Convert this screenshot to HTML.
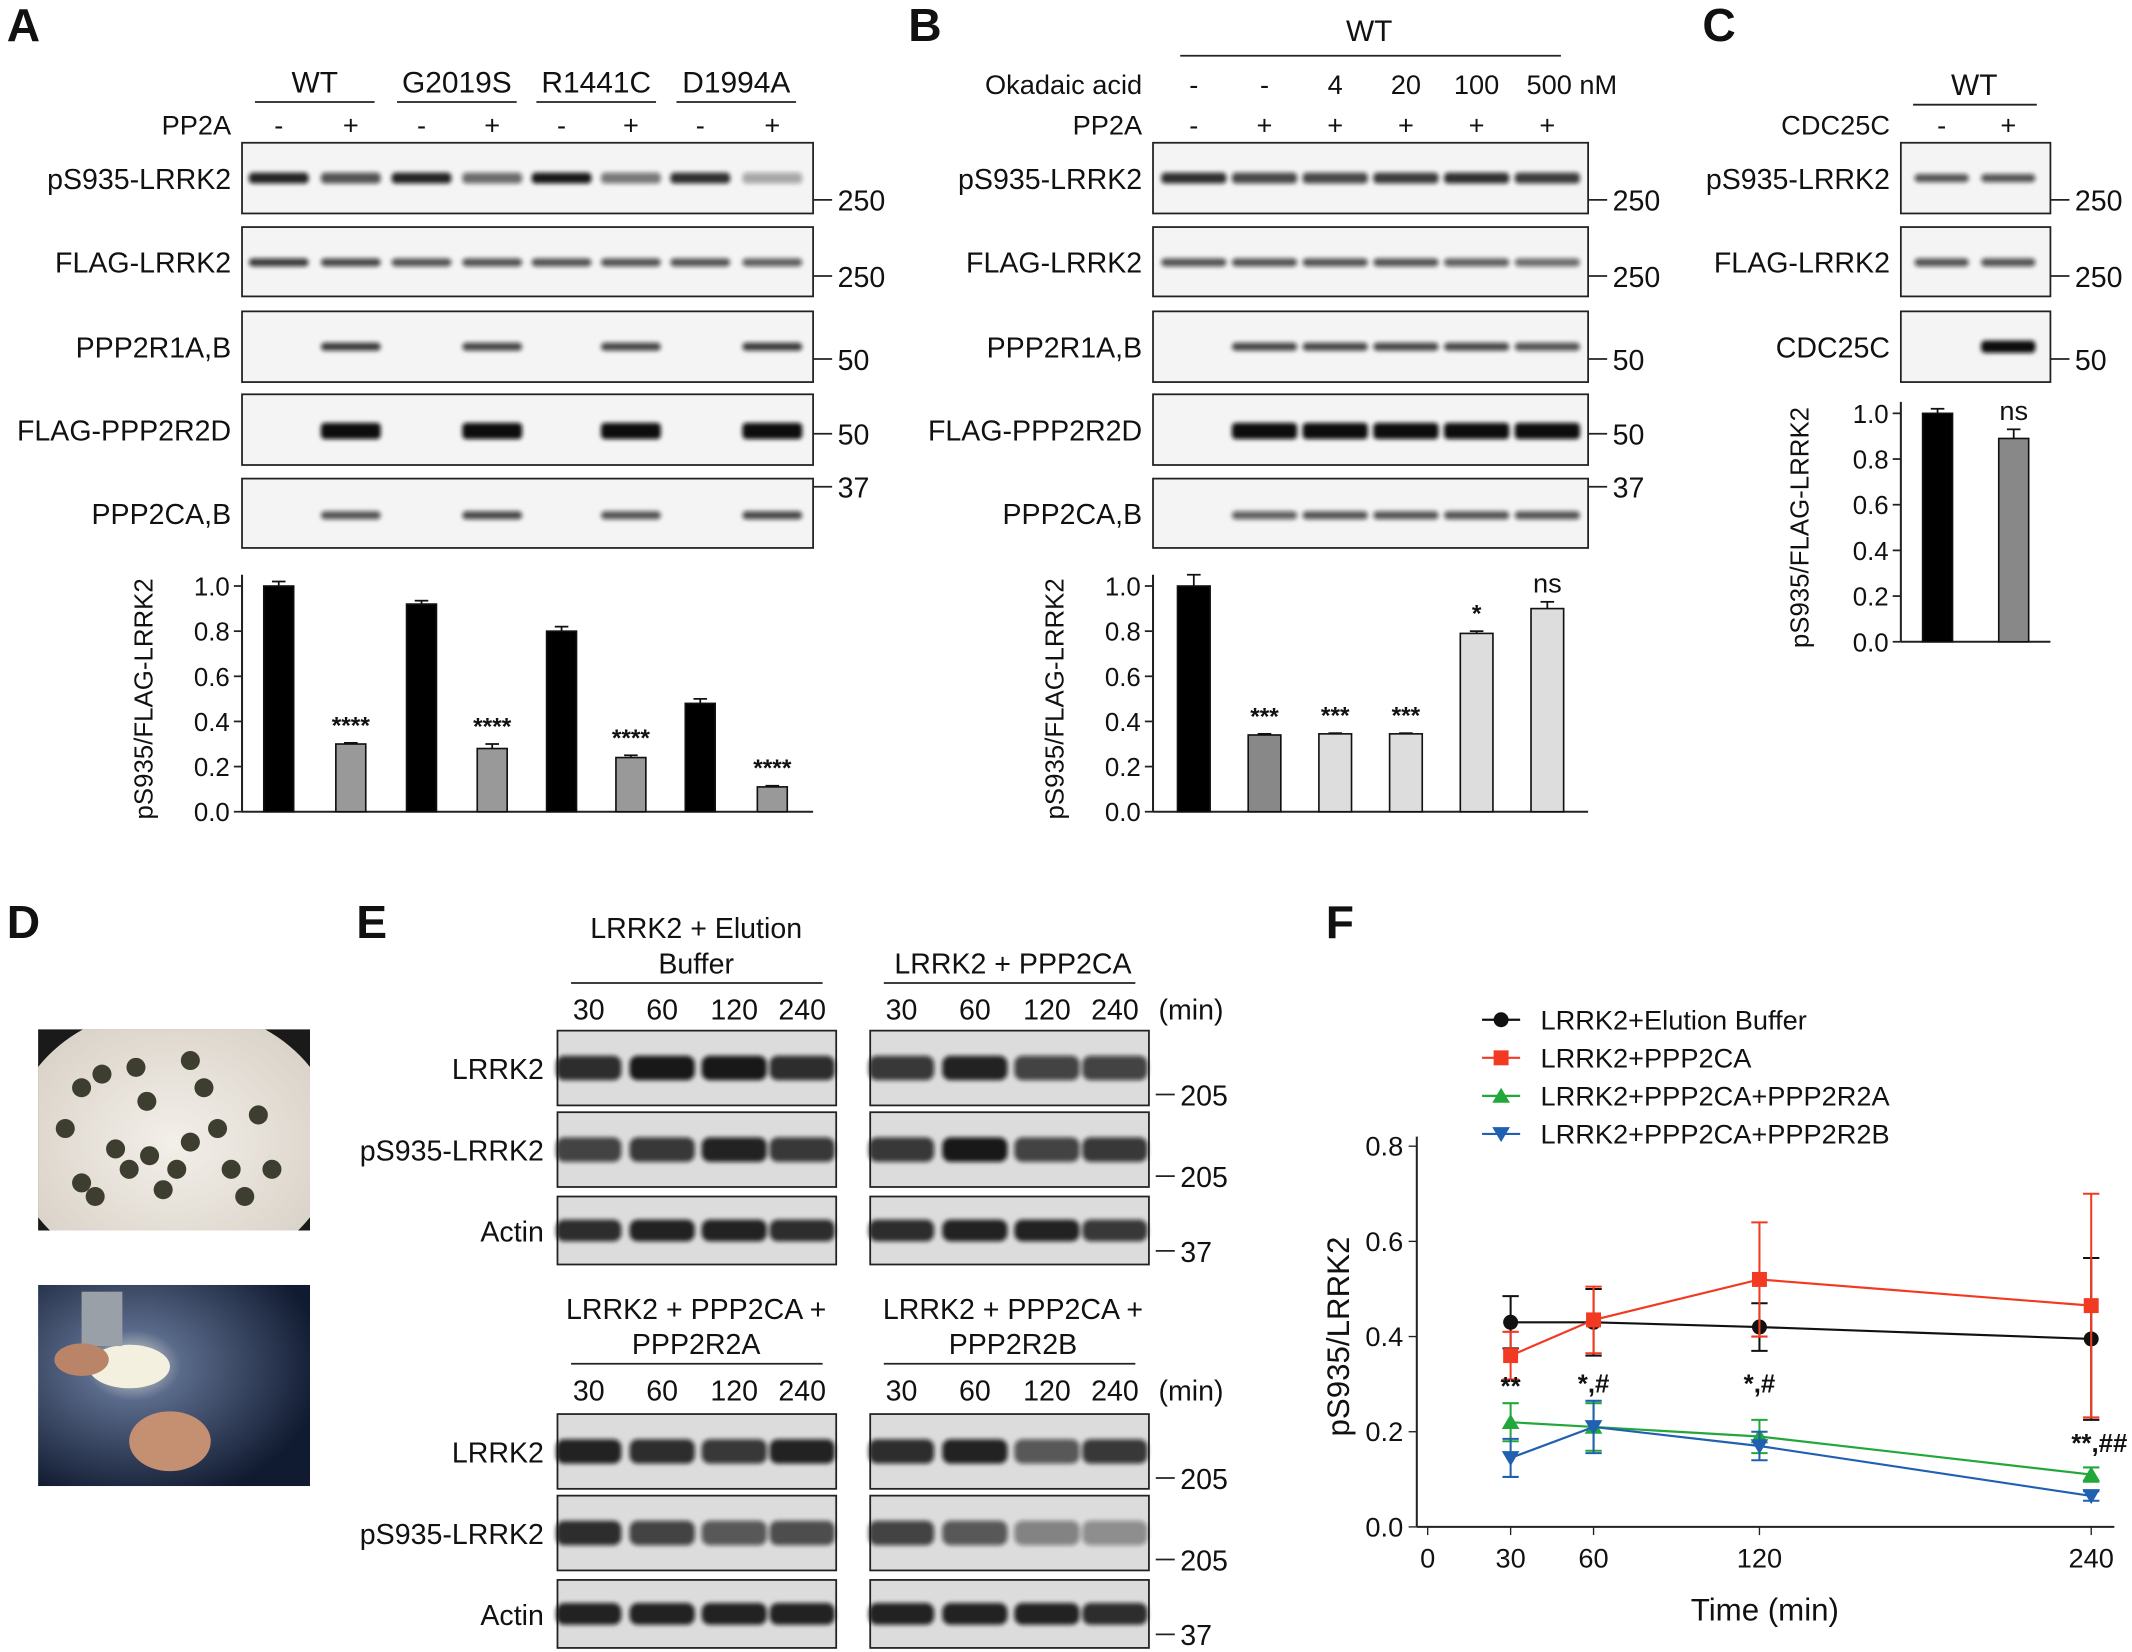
<!DOCTYPE html>
<html><head><meta charset="utf-8"><style>
html,body{margin:0;padding:0;background:#fff;}
svg{display:block;font-family:"Liberation Sans",Arial,sans-serif;}
</style></head><body>
<svg id="fig" width="2132" height="1652" viewBox="0 0 1568 1215" preserveAspectRatio="none" xmlns="http://www.w3.org/2000/svg">
<defs>
<filter id="blur" x="-20%" y="-200%" width="140%" height="500%"><feGaussianBlur stdDeviation="1.6"/></filter>
<radialGradient id="dish" cx="50%" cy="50%" r="70%"><stop offset="0" stop-color="#f3efe9"/><stop offset="0.75" stop-color="#d9d2c8"/><stop offset="1" stop-color="#222"/></radialGradient>
<radialGradient id="scope" cx="35%" cy="40%" r="70%"><stop offset="0" stop-color="#e8e6dc"/><stop offset="0.25" stop-color="#5a6a8a"/><stop offset="1" stop-color="#101a30"/></radialGradient>
<clipPath id="clipD1"><rect x="28" y="757" width="200" height="148"/></clipPath>
<clipPath id="clipD2"><rect x="28" y="945" width="200" height="148"/></clipPath>
</defs>
<g id="root"></g>
</svg>
<script>
// ---------- data ----------
const aGroups = ["WT","G2019S","R1441C","D1994A"];
const aControl = [1.0,0.92,0.80,0.48];
const aControlErr = [0.02,0.015,0.02,0.02];
const aTreated = [0.30,0.28,0.24,0.11];
const aTreatedErr = [0.005,0.02,0.01,0.005];
const aStars = ["****","****","****","****"];
const bOkadaic = ["-","-","4","20","100","500 nM"];
const bPP2A = ["-","+","+","+","+","+"];
const bValues = [1.0,0.34,0.345,0.345,0.79,0.90];
const bErr = [0.05,0.005,0.003,0.003,0.01,0.03];
const bStars = ["","***","***","***","*","ns"];
const cValues = [1.0,0.89];
const cErr = [0.02,0.04];
const barTicks = [0.0,0.2,0.4,0.6,0.8,1.0];
const fTimes = [30,60,120,240];
const fXTicks = [0,30,60,120,240];
const fYTicks = [0.0,0.2,0.4,0.6,0.8];
const fNames = ["LRRK2+Elution Buffer","LRRK2+PPP2CA","LRRK2+PPP2CA+PPP2R2A","LRRK2+PPP2CA+PPP2R2B"];
const fBuffer = [0.43,0.43,0.42,0.395];
const fBufferErr = [0.055,0.07,0.05,0.17];
const fCA = [0.36,0.435,0.52,0.465];
const fCAErr = [0.05,0.07,0.12,0.235];
const fR2A = [0.22,0.21,0.19,0.11];
const fR2AErr = [0.04,0.05,0.035,0.015];
const fR2B = [0.145,0.21,0.17,0.065];
const fR2BErr = [0.04,0.055,0.03,0.01];
const fSig = ["**","*,#","*,#","**,##"];

const NS="http://www.w3.org/2000/svg";
const root=document.getElementById('root');
function mk(tag,attrs,parent){const e=document.createElementNS(NS,tag);for(const k in attrs)e.setAttribute(k,attrs[k]);(parent||root).appendChild(e);return e;}
function txt(s,x,y,size,anchor,parent,extra){const t=mk('text',Object.assign({x:x,y:y,'font-size':size,'text-anchor':anchor||'middle',fill:'#111'},extra||{}),parent);t.textContent=s;return t;}

[["A",5,30],["B",668,30],["C",1252,30],["D",5,690],["E",262,690],["F",975,690]].forEach(p=>{
  const t=txt(p[0],p[1],p[2],34,'start',root,{'font-weight':'bold'});
  
  
});

function blot(x,y,w,h,lanes,intens,bandY,bandH,name,lw){
  const g=mk('g',{});
  
  
  mk('rect',{x:x,y:y,width:w,height:h,fill:'#f4f4f4',stroke:'#222','stroke-width':1.3},g);
  lanes.forEach((lx,i)=>{
    const v=intens[i]; if(v<=0)return;
    const b=mk('rect',{x:lx-(lw||22),y:y+bandY-bandH/2,width:2*(lw||22),height:bandH,rx:3,fill:'#111','fill-opacity':v,filter:'url(#blur)'},g);
    
    
  });
  return g;
}
function mw(label,x,y){
  mk('line',{x1:x,y1:y,x2:x+14,y2:y,stroke:'#222','stroke-width':1.3});
  txt(label,x+18,y+8,21,'start');
}

// ---------- Panel A ----------
const aLanes=[205,258,310,362,413,464,515,568];
aGroups.forEach((g,i)=>{
  const cx=(aLanes[2*i]+aLanes[2*i+1])/2;
  const t=txt(g,cx,68,22);
  
  
  mk('line',{x1:cx-44,y1:75,x2:cx+44,y2:75,stroke:'#222','stroke-width':1.3});
  txt('-',aLanes[2*i],99,20); txt('+',aLanes[2*i+1],99,20);
});
txt('PP2A',170,99,20,'end');
const rowsY=[[105,52,'pS935-LRRK2'],[167,51,'FLAG-LRRK2'],[229,52,'PPP2R1A,B'],[290,52,'FLAG-PPP2R2D'],[352,51,'PPP2CA,B']];
const aInt=[
 [0.9,0.7,0.9,0.6,0.95,0.55,0.85,0.35],
 [0.8,0.75,0.7,0.7,0.7,0.7,0.7,0.65],
 [0,0.8,0,0.75,0,0.75,0,0.8],
 [0,1,0,1,0,1,0,1],
 [0,0.7,0,0.75,0,0.7,0,0.75]];
const bandYs=[26,26,26,27,27];const bandHs=[8,6,6,12,6];
rowsY.forEach((r,i)=>{
  txt(r[2],170,r[0]+r[1]/2+8,21,'end');
  blot(178,r[0],420,r[1],aLanes,aInt[i],bandYs[i],bandHs[i],'blot-a-'+i);
});
mw('250',598,147);mw('250',598,203);mw('50',598,264);mw('50',598,319);mw('37',598,358);

function barChart(prefix,axisX,x0,x1,y0,pxPerUnit,ylabelX,drawBars){
  const g=mk('g',{});
  
  
  const yS=v=>y0-v*pxPerUnit;
  mk('line',{x1:axisX,y1:yS(1.05),x2:axisX,y2:y0,stroke:'#222','stroke-width':1.5},g);
  mk('line',{x1:axisX,y1:y0,x2:x1,y2:y0,stroke:'#222','stroke-width':1.5},g);
  barTicks.forEach(t=>{
    mk('line',{x1:axisX-6,y1:yS(t),x2:axisX,y2:yS(t),stroke:'#222','stroke-width':1.3},g);
    const l=txt(t.toFixed(1),axisX-9,yS(t)+7,19,'end',g);
    
    
  });
  const yl=txt('pS935/FLAG-LRRK2',0,0,19,'middle',g,{transform:`translate(${ylabelX},${yS(0.5)}) rotate(-90)`});
  
  
  drawBars(yS,g);
}
function bar(g,cx,w,v,err,yS,fill,label,name){
  const r=mk('rect',{x:cx-w/2,y:yS(v),width:w,height:yS(0)-yS(v),fill:fill,stroke:'#111','stroke-width':1.2},g);
  
  
  mk('line',{x1:cx,y1:yS(v),x2:cx,y2:yS(v+err),stroke:'#111','stroke-width':1.3},g);
  mk('line',{x1:cx-5,y1:yS(v+err),x2:cx+5,y2:yS(v+err),stroke:'#111','stroke-width':1.3},g);
  if(label){txt(label,cx,yS(v+err)-7,label==='ns'?20:18,'middle',g,{'font-weight':label==='ns'?'normal':'bold'});}
}
barChart('a',178,178,598,597,166,112,(yS,g)=>{
  aGroups.forEach((n,i)=>{
    bar(g,aLanes[2*i],22,aControl[i],aControlErr[i],yS,'#000','', 'bar-'+n+'-control');
    bar(g,aLanes[2*i+1],22,aTreated[i],aTreatedErr[i],yS,'#999',aStars[i],'bar-'+n+'-pp2a');
  });
});

// ---------- Panel B ----------
const bLanes=[878,930,982,1034,1086,1138];
txt('WT',1007,30,22);
mk('line',{x1:868,y1:41,x2:1148,y2:41,stroke:'#222','stroke-width':1.3});
txt('Okadaic acid',840,69,20,'end');txt('PP2A',840,99,20,'end');
bOkadaic.forEach((s,i)=>{const t=txt(s,bLanes[i]+(i==5?18:0),69,20);});
bPP2A.forEach((s,i)=>txt(s,bLanes[i],99,20));
const bInt=[
 [0.85,0.75,0.75,0.8,0.85,0.8],
 [0.7,0.7,0.7,0.7,0.65,0.6],
 [0,0.75,0.75,0.75,0.75,0.7],
 [0,1,1,1,1,1],
 [0,0.65,0.7,0.7,0.7,0.7]];
rowsY.forEach((r,i)=>{
  txt(r[2],840,r[0]+r[1]/2+8,21,'end');
  blot(848,r[0],320,r[1],bLanes,bInt[i],bandYs[i],bandHs[i],'blot-b-'+i,24);
});
mw('250',1168,147);mw('250',1168,203);mw('50',1168,264);mw('50',1168,319);mw('37',1168,358);
const bFills=['#000','#888','#ddd','#ddd','#ddd','#ddd'];
barChart('b',848,848,1168,597,166,782,(yS,g)=>{
  bLanes.forEach((cx,i)=>bar(g,cx,24,bValues[i],bErr[i],yS,bFills[i],bStars[i],'bar-b-'+i));
});

// ---------- Panel C ----------
const cLanes=[1428,1477];
txt('WT',1452,70,22);
mk('line',{x1:1407,y1:77,x2:1498,y2:77,stroke:'#222','stroke-width':1.3});
txt('CDC25C',1390,99,20,'end');txt('-',1428,99,20);txt('+',1477,99,20);
const cInt=[[0.7,0.7],[0.7,0.7],[0,1]];
rowsY.slice(0,2).concat([[229,52,'CDC25C']]).forEach((r,i)=>{
  txt(r[2],1390,r[0]+r[1]/2+8,21,'end');
  blot(1398,r[0],110,r[1],cLanes,cInt[i],26,i==2?9:6,'blot-c-'+i,20);
});
mw('250',1508,147);mw('250',1508,203);mw('50',1508,264);
barChart('c',1398,1398,1508,472,168,1330,(yS,g)=>{
  bar(g,1425,22,cValues[0],cErr[0],yS,'#000','','bar-c-control');
  bar(g,1481,22,cValues[1],cErr[1],yS,'#888','ns','bar-c-cdc25c');
});

// ---------- Panel D ----------
const d1=mk('g',{'clip-path':'url(#clipD1)'});
mk('rect',{x:28,y:757,width:200,height:148,fill:'#1a1a1a'},d1);
mk('ellipse',{cx:128,cy:840,rx:120,ry:100,fill:'url(#dish)'},d1);
[[48,830],[60,800],[75,790],[100,785],[140,780],[150,800],[160,830],[110,850],[95,860],[130,860],[120,875],[170,860],[180,880],[60,870],[140,840],[85,845],[200,860],[190,820],[108,810],[70,880]].forEach(p=>mk('circle',{cx:p[0],cy:p[1],r:7,fill:'#3d3d30'},d1));
const d2=mk('g',{'clip-path':'url(#clipD2)'});
mk('rect',{x:28,y:945,width:200,height:148,fill:'url(#scope)'},d2);
mk('ellipse',{cx:95,cy:1005,rx:30,ry:16,fill:'#f4f0e0'},d2);
mk('rect',{x:60,y:950,width:30,height:40,fill:'#9aa0a8'},d2);
mk('ellipse',{cx:125,cy:1060,rx:30,ry:22,fill:'#c58f72'},d2);
mk('ellipse',{cx:60,cy:1000,rx:20,ry:12,fill:'#b98468'},d2);

// ---------- Panel E ----------
function eGroup(x0,h1,h2,headY,rowsTop,rowLabels,ints,showMin,showMW){
  const cx=x0+(x0===410?102:105);
  if(h2){txt(h1,cx,headY,21);txt(h2,cx,headY+26,21);}else{txt(h1,cx,headY+26,21);}
  mk('line',{x1:x0+10,y1:headY+33,x2:x0+195,y2:headY+33,stroke:'#222','stroke-width':1.3});
  const lanes=[x0+23,x0+77,x0+130,x0+180];
  ['30','60','120','240'].forEach((t,i)=>txt(t,lanes[i],headY+60,21));
  if(showMin)txt('(min)',x0+212,headY+60,21,'start');
  const rh=[55,55,50];const ry=[rowsTop,rowsTop+60,rowsTop+122];
  rowLabels.forEach((l,i)=>{
    if(x0===410)txt(l,400,ry[i]+rh[i]/2+8,21,'end');
    const g=mk('g',{});
    mk('rect',{x:x0,y:ry[i],width:205,height:rh[i],fill:'#dcdcdc',stroke:'#222','stroke-width':1.3},g);
    lanes.forEach((lx,j)=>{
      const b=mk('rect',{x:lx-24,y:ry[i]+rh[i]/2-(i==2?8:9),width:48,height:i==2?16:18,rx:6,fill:'#111','fill-opacity':ints[i][j],filter:'url(#blur)'},g);
      
    });
  });
  if(showMW){mw('205',x0+210,ry[0]+rh[0]-8);mw('205',x0+210,ry[1]+rh[1]-8);mw('37',x0+210,ry[2]+rh[2]-10);}
}
const eLabels=['LRRK2','pS935-LRRK2','Actin'];
eGroup(410,'LRRK2 + Elution','Buffer',690,758,eLabels,[[0.85,0.95,0.95,0.85],[0.75,0.8,0.9,0.8],[0.85,0.9,0.9,0.85]],false,false);
eGroup(640,'LRRK2 + PPP2CA',null,690,758,eLabels,[[0.8,0.9,0.75,0.75],[0.8,0.95,0.75,0.8],[0.85,0.9,0.9,0.8]],true,true);
eGroup(410,'LRRK2 + PPP2CA +','PPP2R2A',970,1040,eLabels,[[0.9,0.85,0.8,0.9],[0.85,0.75,0.65,0.7],[0.9,0.9,0.9,0.9]],false,false);
eGroup(640,'LRRK2 + PPP2CA +','PPP2R2B',970,1040,eLabels,[[0.85,0.9,0.65,0.8],[0.75,0.65,0.45,0.4],[0.9,0.9,0.9,0.85]],true,true);

// ---------- Panel F ----------
const fx=t=>1050+t*(488/240);
const fy=v=>1123-v*350;
const fg=mk('g',{});
mk('line',{x1:1042,y1:fy(0.82),x2:1042,y2:fy(0),stroke:'#222','stroke-width':1.5},fg);
mk('line',{x1:1042,y1:fy(0),x2:1555,y2:fy(0),stroke:'#222','stroke-width':1.5},fg);
fYTicks.forEach(v=>{mk('line',{x1:1036,y1:fy(v),x2:1042,y2:fy(v),stroke:'#222'},fg);
  const l=txt(v.toFixed(1),1032,fy(v)+7,20,'end',fg);});
fXTicks.forEach(t=>{mk('line',{x1:fx(t),y1:fy(0),x2:fx(t),y2:fy(0)+6,stroke:'#222'},fg);
  const l=txt(String(t),fx(t),fy(0)+30,20,'middle',fg);});
const yt=txt('pS935/LRRK2',0,0,23,'middle',fg,{transform:`translate(992,${fy(0.4)}) rotate(-90)`});

const xt=txt('Time (min)',1298,1192,23,'middle',fg);

const series=[[fBuffer,fBufferErr,'#111','circle'],[fCA,fCAErr,'#f23a22','square'],[fR2A,fR2AErr,'#22a83a','tri'],[fR2B,fR2BErr,'#2060b0','tridown']];
function marker(shape,x,y,c,g){
  if(shape=='circle')return mk('circle',{cx:x,cy:y,r:5.5,fill:c},g);
  if(shape=='square')return mk('rect',{x:x-5.5,y:y-5.5,width:11,height:11,fill:c},g);
  if(shape=='tri')return mk('polygon',{points:`${x},${y-6} ${x-6.5},${y+5} ${x+6.5},${y+5}`,fill:c},g);
  return mk('polygon',{points:`${x},${y+6} ${x-6.5},${y-5} ${x+6.5},${y-5}`,fill:c},g);
}
series.forEach((s,k)=>{
  const g=mk('g',{},fg);
  
  
  const pts=fTimes.map((t,i)=>fx(t)+','+fy(s[0][i])).join(' ');
  mk('polyline',{points:pts,fill:'none',stroke:s[2],'stroke-width':1.6},g);
  fTimes.forEach((t,i)=>{
    const x=fx(t),v=s[0][i],e=s[1][i];
    mk('line',{x1:x,y1:fy(v-e),x2:x,y2:fy(v+e),stroke:s[2],'stroke-width':1.5},g);
    mk('line',{x1:x-6,y1:fy(v+e),x2:x+6,y2:fy(v+e),stroke:s[2],'stroke-width':1.5},g);
    mk('line',{x1:x-6,y1:fy(v-e),x2:x+6,y2:fy(v-e),stroke:s[2],'stroke-width':1.5},g);
    const m=marker(s[3],x,fy(v),s[2],g);
    
    
  });
  const ly=750+k*28;
  const lg=mk('g',{},fg);
  
  
  mk('line',{x1:1090,y1:ly,x2:1118,y2:ly,stroke:s[2],'stroke-width':1.6},lg);
  marker(s[3],1104,ly,s[2],lg);
  txt(fNames[k],1133,ly+7,20,'start',lg);
});
fTimes.forEach((t,i)=>{
  const yy=[fy(0.26)-6,fy(0.265)-6,fy(0.265)-6,fy(0.135)-8][i];
  const l=txt(fSig[i],fx(t)+(i==3?6:0),yy,19,'middle',fg,{'font-weight':'bold'});
  
  
});
</script>
</body></html>
